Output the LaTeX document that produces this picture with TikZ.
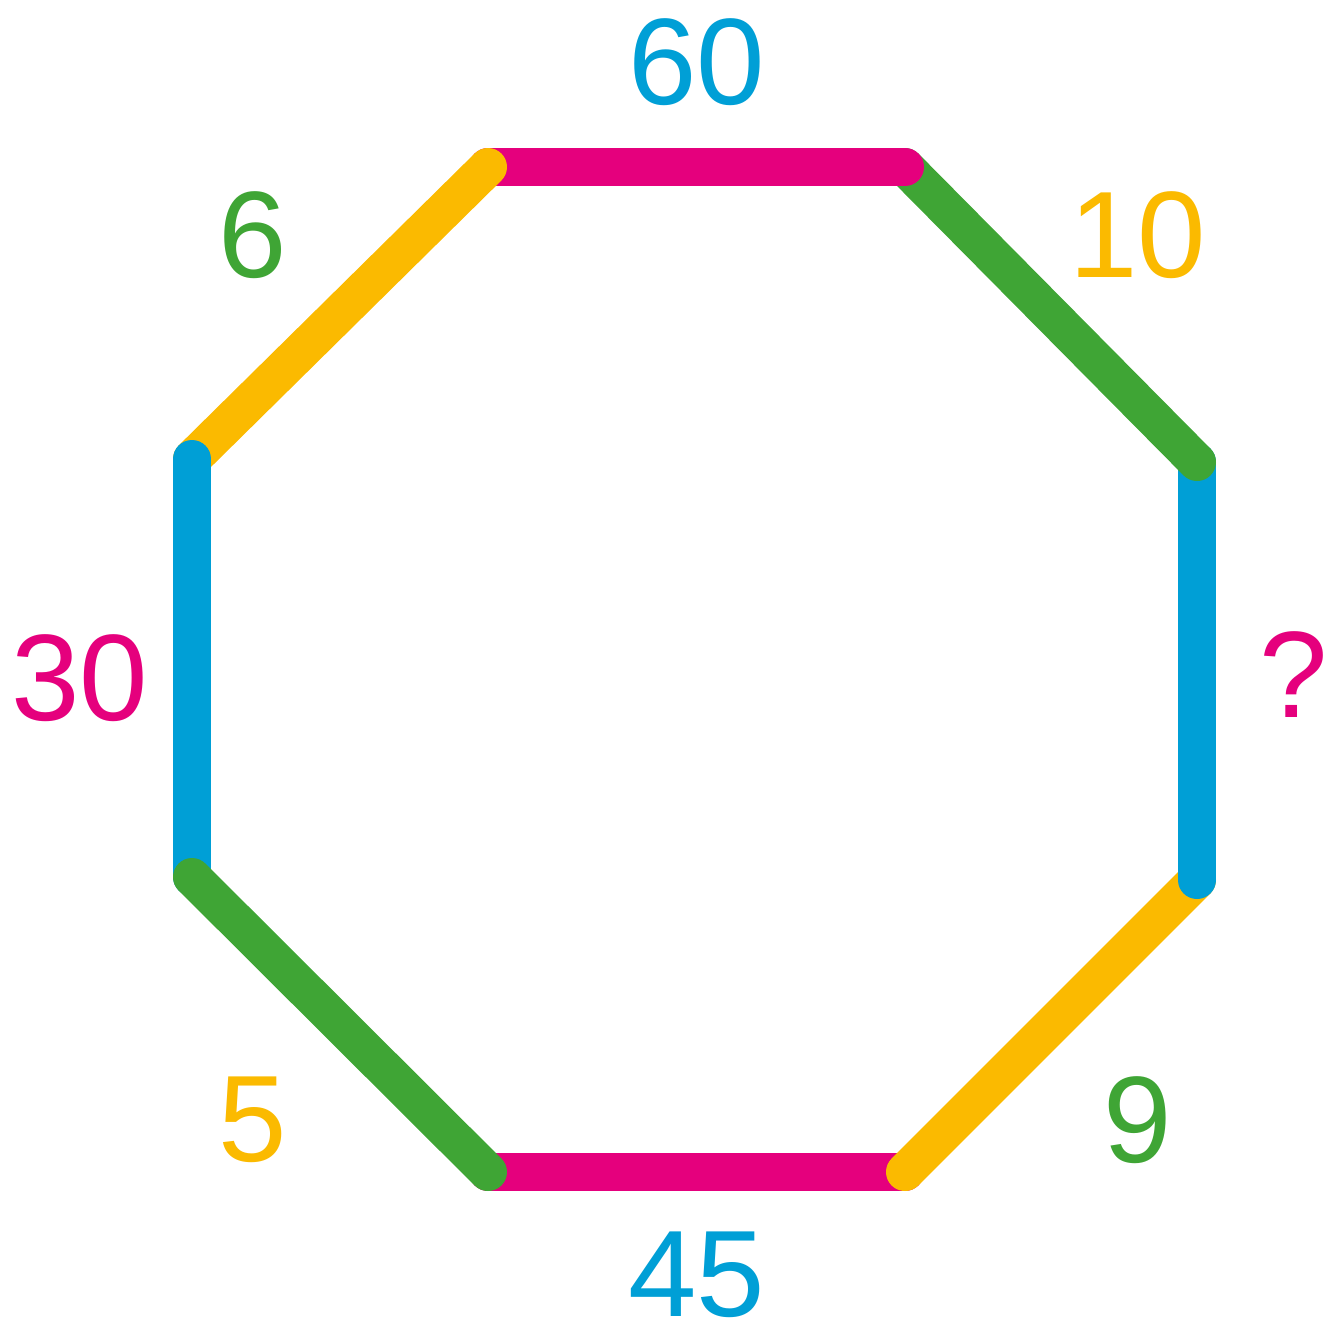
\documentclass[tikz,border=0pt]{standalone}
\usepackage{fontspec}
\setmainfont{Liberation Sans}
\usepackage{tikz}
\usetikzlibrary{positioning}
\definecolor{rose}{HTML}{E5007D}
\definecolor{leaf}{HTML}{3FA535}
\definecolor{sun}{HTML}{FBBA00}
\definecolor{sky}{HTML}{009FD6}
\tikzset{
  side/.style={line width=3.8mm, line cap=round},
  num/.style={font=\fontsize{35}{35}\selectfont, inner sep=0pt}
}

\begin{document}
\begin{tikzpicture}[x=0.1mm, y=-0.1mm]
 \useasboundingbox (0,0) rectangle (1330,1340);
 \coordinate (tl) at (488,167); \coordinate (tr) at (905,167);
 \coordinate (rt) at (1197,462); \coordinate (rb) at (1197,880);
 \coordinate (br) at (905,1172); \coordinate (bl) at (488,1172);
 \coordinate (lb) at (192,877); \coordinate (lt) at (192,459);
 \draw[side, rose](bl)--(br);\draw[side, sun](br)--(rb);\draw[side, sky](rb)--(rt);
 \draw[side, leaf](rt)--(tr);\draw[side, rose](tr)--(tl);\draw[side, sun](tl)--(lt);
 \draw[side, sky](lt)--(lb);\draw[side, leaf](lb)--(bl);
 \node[num, text=sky] (top) at (697,62) {60};
 \node[num, text=sun] (ne) at (1138,235) {10};
 \node[num, text=rose] (east) at (1294,675) {?};
 \node[num, text=leaf] (se) at (1138,1120) {9};
 \node[num, text=sky] (bot) at (697,1275) {45};
 \node[num, text=sun] (sw) at (253,1120) {5};
 \node[num, text=rose] (west) at (80,678) {30};
 \node[num, text=leaf] (nw) at (253,235) {6};
\end{tikzpicture}
\end{document}
